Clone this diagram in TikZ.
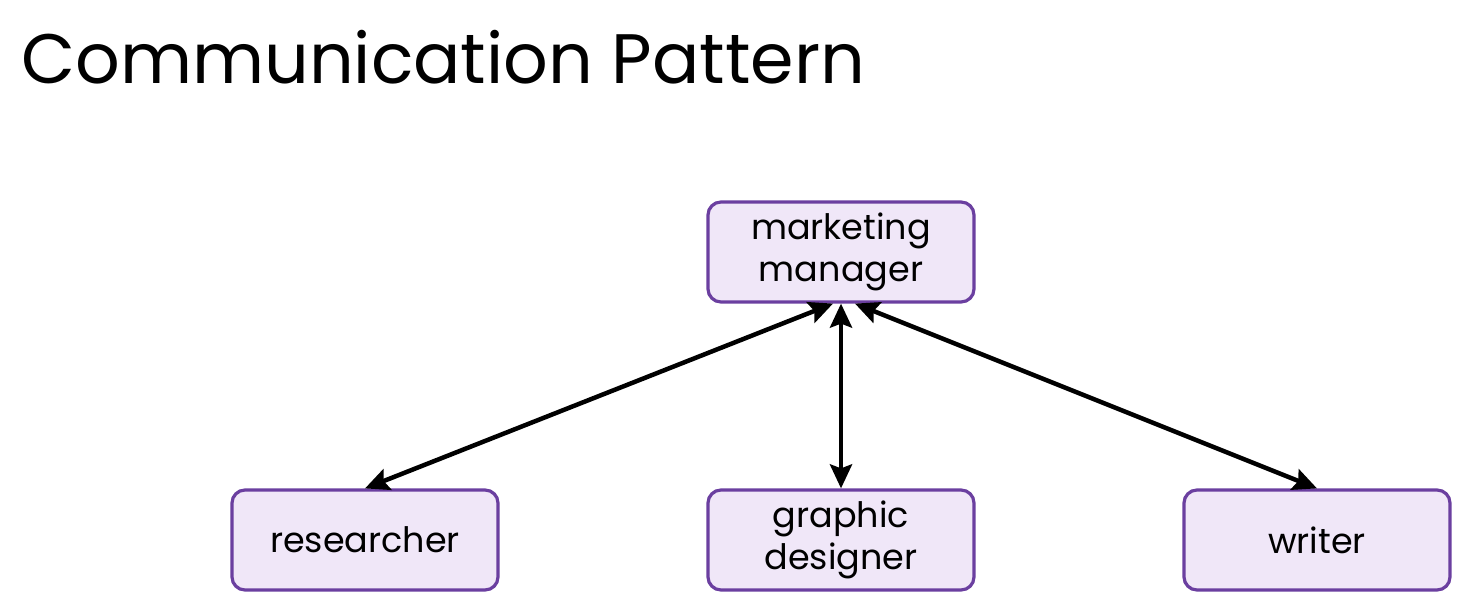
\documentclass[tikz,border=0pt]{standalone}
\usepackage{fontspec}
\setmainfont{Poppins}
\usetikzlibrary{arrows.meta}
\definecolor{boxborder}{HTML}{6B3FA0}
\definecolor{boxfill}{HTML}{F0E7F8}
\begin{document}
\begin{tikzpicture}[x=1pt,y=-1pt,
  box/.style={draw=boxborder,fill=boxfill,line width=3.2pt,rounded corners=13pt,
    minimum width=266pt,minimum height=100pt,align=center,font=\fontsize{35}{42}\selectfont,inner sep=0pt},
  link/.style={line width=4.5pt,{Stealth[length=24pt,width=22pt,inset=4pt]}-{Stealth[length=24pt,width=22pt,inset=4pt]}}]
\useasboundingbox (0,0) rectangle (1470,612);
\fill[white] (0,0) rectangle (1470,612);
\node[anchor=base west,inner sep=0pt,font=\fontsize{70}{80}\selectfont] (title) at (21,84) {Communication Pattern};
\node[box] (mm) at (841,252) {marketing\\manager};
\node[box] (res) at (365,540) {researcher};
\node[box] (gd) at (841,540) {graphic\\designer};
\node[box] (wr) at (1317,540) {writer};
\draw[link] ([xshift=-8pt]mm.south) -- (res.north);
\draw[link] (mm.south) -- (gd.north);
\draw[link] ([xshift=14pt]mm.south) -- (wr.north);
\end{tikzpicture}
\end{document}
